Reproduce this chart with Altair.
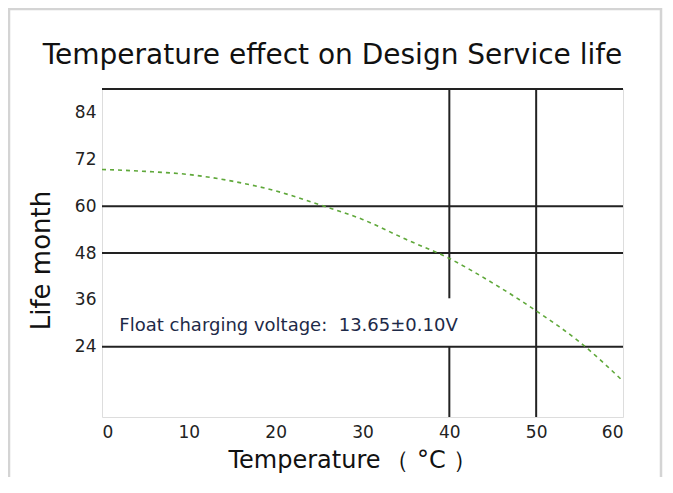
import altair as alt
import pandas as pd

# Curve: design service life (months) versus temperature (°C)
temps = [0, 5, 10, 15, 20, 25, 30, 35, 40, 45, 50, 55, 60]
life = [69.4, 68.9, 68.1, 66.4, 63.9, 60.4, 56.6, 51.5, 46.6, 40.3, 33.2, 25.2, 15.2]

# Reference lines
h_levels = [90, 60, 48, 24]
v_x = [40, 40, 50]
v_top = [90, 24, 90]
v_bottom = [36.4, 6, 6]

x_ticks = [0, 10, 20, 30, 40, 50, 60]
y_ticks = [24, 36, 48, 60, 72, 84]

note_text = ["Float charging voltage:\u00a0\u00a013.65±0.10V"]
note_x = [2.0]
note_y = [28.0]

FONT = "DejaVu Sans"
DARK = "#222222"

curve_df = pd.DataFrame({"t": temps, "life": life})
h_df = pd.DataFrame({"y": h_levels, "x0": [0] * len(h_levels), "x1": [60] * len(h_levels)})
v_df = pd.DataFrame({"x": v_x, "y0": v_top, "y1": v_bottom})
note_df = pd.DataFrame({"text": note_text, "x": note_x, "y": note_y})

xscale = alt.Scale(domain=[0, 60], nice=False, zero=False)
yscale = alt.Scale(domain=[6, 90], nice=False, zero=False)

x_axis = alt.Axis(
    values=x_ticks, ticks=False, domain=False, grid=False,
    labelFont=FONT, labelFontSize=17, labelColor=DARK, labelPadding=7,
    title="Temperature\u2009\uff08\u00a0°C\u00a0\uff09", titleFont=FONT, titleFontSize=24,
    titleFontWeight="normal", titleColor="#111111",
    titleX=126, titleY=50, titleAlign="left", titleBaseline="alphabetic",
)
y_axis = alt.Axis(
    values=y_ticks, ticks=False, domain=False, grid=False,
    labelFont=FONT, labelFontSize=17, labelColor=DARK, labelPadding=6,
    title="Life month", titleFont=FONT, titleFontSize=26,
    titleFontWeight="normal", titleColor="#111111",
    titleX=-53, titleY=171, titleAlign="center", titleBaseline="alphabetic",
)

frame = alt.Chart(pd.DataFrame({"a": [0]})).mark_rect(
    fill=None, stroke="#d4d4d4", strokeWidth=2.5
).encode(
    x=alt.value(-93), x2=alt.value(559), y=alt.value(-80), y2=alt.value(420)
)

hlines = alt.Chart(h_df).mark_rule(color=DARK, strokeWidth=2).encode(
    x=alt.X("x0:Q", scale=xscale, axis=x_axis),
    x2="x1:Q",
    y=alt.Y("y:Q", scale=yscale, axis=y_axis),
)

vlines = alt.Chart(v_df).mark_rule(color=DARK, strokeWidth=2).encode(
    x=alt.X("x:Q", scale=xscale),
    y=alt.Y("y0:Q", scale=yscale),
    y2="y1:Q",
)

curve = alt.Chart(curve_df).mark_line(
    color="#5fa83a", strokeWidth=1.6, strokeDash=[4, 4], interpolate="monotone"
).encode(
    x=alt.X("t:Q", scale=xscale),
    y=alt.Y("life:Q", scale=yscale),
)

note = alt.Chart(note_df).mark_text(
    align="left", baseline="alphabetic", font=FONT, fontSize=18, color="#1e2a48"
).encode(
    x=alt.X("x:Q", scale=xscale),
    y=alt.Y("y:Q", scale=yscale),
    text="text:N",
)

chart = alt.layer(frame, hlines, vlines, curve, note).properties(
    width=521,
    height=328,
    padding={"left": 94, "top": 81, "right": 42, "bottom": 60},
    autosize=alt.AutoSizeParams(type="none"),
    title=alt.TitleParams(
        text="Temperature effect on Design Service life",
        font=FONT, fontSize=28, fontWeight="normal", color="#111111",
        anchor="middle", frame="group", dx=-30, dy=84, offset=0,
        baseline="alphabetic",
    ),
).configure_view(stroke=None).configure(background="white")

chart.save("out.html", embed_options={"renderer": "svg", "actions": False})
